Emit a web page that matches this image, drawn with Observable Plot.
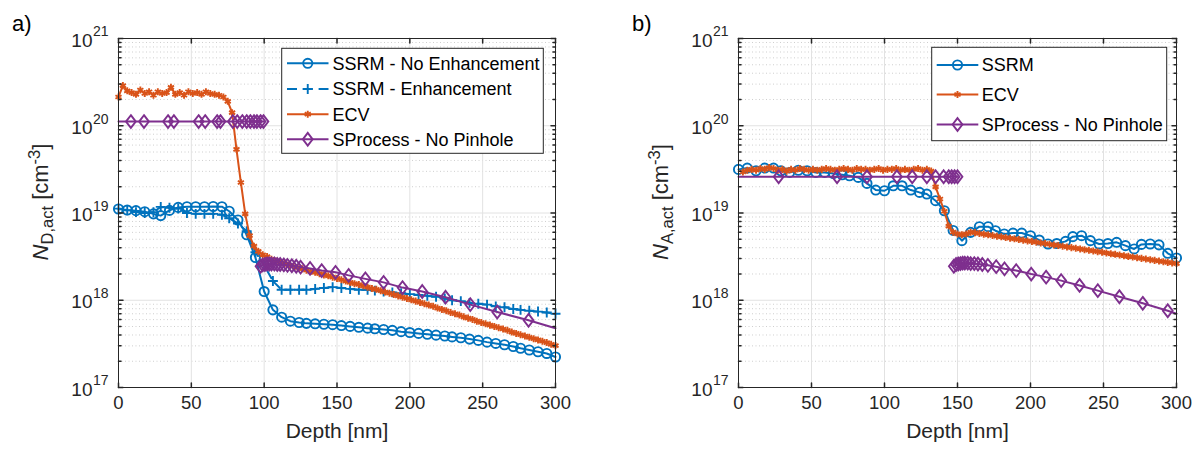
<!DOCTYPE html>
<html><head><meta charset="utf-8">
<script src="https://cdn.jsdelivr.net/npm/d3@7"></script>
<script src="https://cdn.jsdelivr.net/npm/@observablehq/plot@0.6"></script>
<style>
body{margin:0;background:#fff;}
#wrap{display:flex;width:1200px;height:449px;overflow:hidden;}
#wrap svg{display:block;flex:none;}
</style>
</head><body><div id="wrap"></div>
<script>
// ---------- axis ticks / labels ----------
const xTicks = [0, 50, 100, 150, 200, 250, 300];
const xTickLabels = ["0", "50", "100", "150", "200", "250", "300"];
const yDecades = [1e17, 1e18, 1e19, 1e20, 1e21];
const yTickBase = "10";
const yTickExp = ["17", "18", "19", "20", "21"];
const xLabel = "Depth [nm]";
const panelTags = ["a)", "b)"];

// ---------- data (log10 of concentration, cm^-3) ----------
const ssrmDepth = [0,6,12,18,24,29,35,41,47,53,59,65,71,76,82,88,94,100,106,112,118,124,129,135,141,147,153,159,165,171,176,182,188,194,200,206,212,218,224,229,235,241,247,253,259,265,271,276,282,288,294,300];

// panel a (donor)
const ssrmNoEnhA = [19.046,19.034,19.027,19.015,18.99,18.97,19.03,19.064,19.072,19.072,19.072,19.075,19.072,19.02,18.92,18.75,18.49,18.10,17.89,17.806,17.76,17.745,17.735,17.73,17.725,17.72,17.71,17.70,17.69,17.68,17.673,17.665,17.655,17.64,17.63,17.62,17.61,17.60,17.59,17.58,17.57,17.555,17.54,17.52,17.505,17.49,17.47,17.45,17.43,17.41,17.39,17.35];
const ssrmEnhA = [19.05,19.03,19.01,19.0,19.01,19.07,19.06,19.05,19.0,18.99,18.99,18.99,18.98,18.94,18.88,18.79,18.55,18.40,18.22,18.12,18.12,18.12,18.12,18.13,18.14,18.15,18.14,18.13,18.12,18.12,18.11,18.10,18.09,18.08,18.07,18.06,18.05,18.04,18.02,18.00,17.99,17.97,17.96,17.95,17.93,17.92,17.90,17.89,17.88,17.87,17.86,17.845];

const ecvDepthA = [0,3,6,9,12,15,18,21,24,27,30,33,36,39,42,45,48,51,54,57,60,63,66,69,72,75,78,81,84,87,90,93,96,99,102,105,108,111,114,117,120,123,126,129,132,135,138,141,144,147,150,153,156,159,162,165,168,171,174,177,180,183,186,189,192,195,198,201,204,207,210,213,216,219,222,225,228,231,234,237,240,243,246,249,252,255,258,261,264,267,270,273,276,279,282,285,288,291,294,297,300];
const ecvA = [20.33,20.46,20.40,20.38,20.36,20.41,20.37,20.39,20.35,20.39,20.37,20.38,20.44,20.36,20.38,20.35,20.39,20.37,20.38,20.36,20.39,20.37,20.36,20.35,20.33,20.28,20.15,19.73,19.35,18.99,18.74,18.62,18.56,18.52,18.50,18.47,18.45,18.43,18.42,18.40,18.39,18.375,18.36,18.345,18.33,18.32,18.305,18.29,18.28,18.265,18.25,18.235,18.22,18.205,18.19,18.18,18.165,18.15,18.135,18.125,18.11,18.095,18.08,18.065,18.05,18.035,18.02,18.005,17.99,17.975,17.96,17.945,17.93,17.91,17.895,17.88,17.86,17.845,17.83,17.81,17.795,17.78,17.76,17.745,17.73,17.715,17.70,17.685,17.67,17.655,17.635,17.62,17.605,17.59,17.575,17.56,17.545,17.53,17.515,17.495,17.48];

const sprocA1Depth = [0,8.5,17.5,34,38,55,59.5,67.7,70,78.5,81.5,85,88,90.5,93,95,97.5,99.5];
const sprocA1 = [20.048,20.048,20.048,20.048,20.048,20.048,20.048,20.048,20.048,20.048,20.048,20.048,20.048,20.048,20.048,20.048,20.048,20.048];
const sprocA2Depth = [97.5,99,100.5,102,103.5,105,107,109,111,113.5,116,119,122,125,131.5,139.5,149,158,169.5,182,195,208.5,224.5,241.5,260,281.5,300];
const sprocA2 = [18.39,18.405,18.41,18.415,18.415,18.415,18.415,18.41,18.41,18.405,18.40,18.395,18.39,18.38,18.365,18.34,18.32,18.285,18.245,18.205,18.145,18.10,18.035,17.95,17.865,17.77,17.68];

// panel b (acceptor)
const ssrmB = [19.50,19.515,19.484,19.515,19.515,19.484,19.465,19.49,19.484,19.465,19.465,19.453,19.438,19.427,19.408,19.339,19.263,19.255,19.312,19.312,19.263,19.236,19.217,19.141,19.026,18.80,18.683,18.778,18.843,18.843,18.797,18.76,18.77,18.77,18.74,18.69,18.645,18.65,18.675,18.729,18.74,18.683,18.645,18.65,18.664,18.626,18.588,18.64,18.645,18.635,18.538,18.485];

const ecvDepthB = [3,6,9,12,15,18,21,24,27,30,33,36,39,42,45,48,51,54,57,60,63,66,69,72,75,78,81,84,87,90,93,96,99,102,105,108,111,114,117,120,123,126,129,132,135,138,141,144,147,150,153,156,159,162,165,168,171,174,177,180,183,186,189,192,195,198,201,204,207,210,213,216,219,222,225,228,231,234,237,240,243,246,249,252,255,258,261,264,267,270,273,276,279,282,285,288,291,294,297,300];
const ecvB = [19.47,19.49,19.50,19.49,19.51,19.50,19.52,19.51,19.49,19.50,19.48,19.50,19.49,19.51,19.50,19.49,19.50,19.49,19.50,19.51,19.50,19.49,19.50,19.51,19.50,19.49,19.51,19.50,19.50,19.49,19.50,19.51,19.49,19.50,19.50,19.51,19.49,19.50,19.49,19.50,19.51,19.49,19.50,19.48,19.30,19.16,19.02,18.85,18.78,18.76,18.75,18.76,18.78,18.775,18.765,18.757,18.75,18.742,18.734,18.727,18.719,18.711,18.704,18.696,18.688,18.68,18.673,18.665,18.657,18.65,18.642,18.634,18.627,18.619,18.611,18.603,18.596,18.588,18.58,18.573,18.565,18.557,18.55,18.542,18.534,18.526,18.519,18.511,18.503,18.496,18.488,18.48,18.473,18.465,18.457,18.45,18.442,18.434,18.427,18.42];

const sprocB1Depth = [0,27.5,67.5,88,108.5,119,129,135,140.5,144,146,148,150];
const sprocB1 = [19.415,19.415,19.415,19.415,19.415,19.415,19.415,19.415,19.415,19.415,19.415,19.415,19.415];
const sprocB2Depth = [147.5,149,150.5,152,153.5,155,157,159,161.5,164,167,170.8,176.5,182.2,190.2,200.5,210.7,221,233.6,246.1,260.9,276.9,294,300];
const sprocB2 = [18.39,18.41,18.415,18.42,18.425,18.425,18.425,18.42,18.42,18.415,18.41,18.40,18.385,18.36,18.34,18.30,18.265,18.225,18.17,18.11,18.04,17.965,17.88,17.845];

// ---------- styling ----------
const fontFamily = "'Liberation Sans', Arial, Helvetica, sans-serif";
const BLUE = "#0072BD", ORANGE = "#D95319", PURPLE = "#7E2F8E";
const AX = "#262626";
const LW = 2;
const MW = 1.9;

const diamondSym = {draw(ctx, size) {
  const r = Math.sqrt(size / Math.PI), h = r * 1.3;
  ctx.moveTo(0, -h); ctx.lineTo(r, 0); ctx.lineTo(0, h); ctx.lineTo(-r, 0); ctx.closePath();
}};
const tickShape = {draw(ctx, l) { ctx.moveTo(0, 0); ctx.lineTo(0, -l); }};

const yMinor = [];
for (const d of yDecades.slice(0, -1)) for (let m = 2; m <= 9; m++) yMinor.push(d * m);

function rows(depths, logs, seg = 0) {
  return depths.map((d, i) => ({depth: d, value: 10 ** logs[i], seg}));
}

function panel(cfg) {
  const W = 600, H = 449;
  const marks = [
    Plot.ruleY(yMinor, {stroke: "#c9c9c9", strokeDasharray: "1,2.5", strokeWidth: 0.9}),
    Plot.ruleX(xTicks, {stroke: "#e2e2e2", strokeWidth: 1}),
    Plot.ruleY(yDecades, {stroke: "#e2e2e2", strokeWidth: 1})
  ];
  for (const s of cfg.series) {
    marks.push(Plot.line(s.data, {x: "depth", y: "value", z: "seg", stroke: s.color, strokeWidth: LW, strokeDasharray: s.dash, curve: "linear"}));
    marks.push(Plot.dot(s.data.filter(s.markFilter || (() => true)), {x: "depth", y: "value", symbol: s.symbol, r: s.r, stroke: s.color, fill: "none", strokeWidth: MW}));
  }
  marks.push(
    Plot.frame({stroke: AX, strokeWidth: 1}),
    // inward ticks
    Plot.vector(yDecades, {y: d => d, frameAnchor: "left", rotate: 90, length: 4.5, anchor: "start", shape: tickShape, stroke: AX}),
    Plot.vector(yDecades, {y: d => d, frameAnchor: "right", rotate: -90, length: 4.5, anchor: "start", shape: tickShape, stroke: AX}),
    Plot.vector(yMinor, {y: d => d, frameAnchor: "left", rotate: 90, length: 2.5, anchor: "start", shape: tickShape, stroke: AX}),
    Plot.vector(yMinor, {y: d => d, frameAnchor: "right", rotate: -90, length: 2.5, anchor: "start", shape: tickShape, stroke: AX}),
    Plot.vector(xTicks, {x: d => d, frameAnchor: "bottom", rotate: 0, length: 4.5, anchor: "start", shape: tickShape, stroke: AX}),
    Plot.vector(xTicks, {x: d => d, frameAnchor: "top", rotate: 180, length: 4.5, anchor: "start", shape: tickShape, stroke: AX}),
    // tick labels
    Plot.text(xTicks, {x: d => d, frameAnchor: "bottom", dy: 21, text: (d, i) => xTickLabels[i], fontSize: 18.5, fill: AX}),
    Plot.text(yDecades, {y: d => d, frameAnchor: "left", dx: -26, dy: 2, textAnchor: "end", text: () => yTickBase, fontSize: 19, fill: AX}),
    Plot.text(yDecades, {y: d => d, frameAnchor: "left", dx: -10, dy: -6.5, textAnchor: "end", text: (d, i) => yTickExp[i], fontSize: 14, fill: AX}),
    Plot.text([xLabel], {frameAnchor: "bottom", dy: 50, text: d => d, fontSize: 21, fill: AX})
  );
  const svg = Plot.plot({
    width: W, height: H,
    marginLeft: cfg.left, marginRight: W - cfg.right, marginTop: 38, marginBottom: H - 387,
    x: {domain: [0, 300], axis: null},
    y: {type: "log", domain: [1e17, 1e21], axis: null},
    style: {fontFamily, background: "white", overflow: "visible"},
    marks
  });
  const S = d3.select(svg);
  // panel tag
  S.append("text").attr("x", cfg.left - 106).attr("y", 31).attr("font-family", fontFamily)
    .attr("text-anchor", "start").attr("font-size", 22).attr("fill", "#000").text(cfg.tag);
  // y label with sub/superscript
  const t = S.append("text").attr("transform", `translate(${cfg.left - 70},202) rotate(-90)`)
    .attr("text-anchor", "middle").attr("font-family", fontFamily).attr("font-size", 22).attr("fill", AX);
  t.append("tspan").attr("font-style", "italic").text("N");
  t.append("tspan").attr("font-size", 16.5).attr("dy", 5).text(cfg.sub);
  t.append("tspan").attr("dy", -5).text(" [cm");
  t.append("tspan").attr("font-size", 16.5).attr("dy", -8).text("-3");
  t.append("tspan").attr("dy", 8).text("]");
  // legend
  const L = cfg.legend;
  const g = S.append("g").attr("font-family", fontFamily).attr("font-size", 18).attr("text-anchor", "start");
  g.append("rect").attr("x", L.x).attr("y", L.y).attr("width", L.w).attr("height", L.h)
    .attr("fill", "white").attr("stroke", AX).attr("stroke-width", 1);
  L.items.forEach((it, i) => {
    const cy = L.rows[i];
    g.append("line").attr("x1", L.x1).attr("x2", L.x2).attr("y1", cy).attr("y2", cy)
      .attr("stroke", it.color).attr("stroke-width", LW).attr("stroke-dasharray", it.legendDash || null);
    const d3sym = {circle: d3.symbolCircle, plus: d3.symbolPlus, asterisk: d3.symbolAsterisk}[it.symbol] || diamondSym;
    g.append("path").attr("transform", `translate(${(L.x1 + L.x2) / 2},${cy})`)
      .attr("d", d3.symbol(d3sym, Math.PI * it.r * it.r)())
      .attr("fill", "none").attr("stroke", it.color).attr("stroke-width", MW);
    g.append("text").attr("x", L.tx).attr("y", cy).attr("dy", "0.35em").attr("fill", "#000").text(it.label);
  });
  return svg;
}

const sNoEnh = {label: "SSRM - No Enhancement", color: BLUE, symbol: "circle", r: 4.6, data: rows(ssrmDepth, ssrmNoEnhA)};
const sEnh = {label: "SSRM - Enhancement", color: BLUE, symbol: "plus", r: 3.3, dash: "8,5", legendDash: "10,5.8", data: rows(ssrmDepth, ssrmEnhA)};
const sEcvA = {label: "ECV", color: ORANGE, symbol: "asterisk", r: 3.3, data: rows(ecvDepthA, ecvA)};
const edgeFilter = d => d.depth > 0 && d.depth < 300;
const sSprocA = {label: "SProcess - No Pinhole", color: PURPLE, symbol: diamondSym, r: 4.9, markFilter: edgeFilter,
  data: rows(sprocA1Depth, sprocA1, 0).concat(rows(sprocA2Depth, sprocA2, 1))};
const sSsrmB = {label: "SSRM", color: BLUE, symbol: "circle", r: 4.6, data: rows(ssrmDepth, ssrmB)};
const sEcvB = {label: "ECV", color: ORANGE, symbol: "asterisk", r: 3.3, data: rows(ecvDepthB, ecvB)};
const sSprocB = {label: "SProcess - No Pinhole", color: PURPLE, symbol: diamondSym, r: 4.9, markFilter: edgeFilter,
  data: rows(sprocB1Depth, sprocB1, 0).concat(rows(sprocB2Depth, sprocB2, 1))};

const legItem = s => ({label: s.label, color: s.color, symbol: typeof s.symbol === "string" ? s.symbol : "diamond", r: s.r, legendDash: s.legendDash});

const wrap = document.getElementById("wrap");
wrap.append(panel({
  tag: panelTags[0], left: 118, right: 555, sub: "D,act",
  series: [sNoEnh, sEnh, sEcvA, sSprocA],
  legend: {x: 281.7, y: 48.3, w: 261.6, h: 105, x1: 287, x2: 328.5, tx: 332.5, rows: [63.3, 89, 114.2, 139.3],
    items: [sNoEnh, sEnh, sEcvA, sSprocA].map(legItem)}
}));
wrap.append(panel({
  tag: panelTags[1], left: 138, right: 576, sub: "A,act",
  series: [sSsrmB, sEcvB, sSprocB],
  legend: {x: 331.7, y: 47.3, w: 235, h: 93.4, x1: 336.7, x2: 378.3, tx: 381.7, rows: [65, 94.5, 124.5],
    items: [sSsrmB, sEcvB, sSprocB].map(legItem)}
}));
</script>
</body></html>
